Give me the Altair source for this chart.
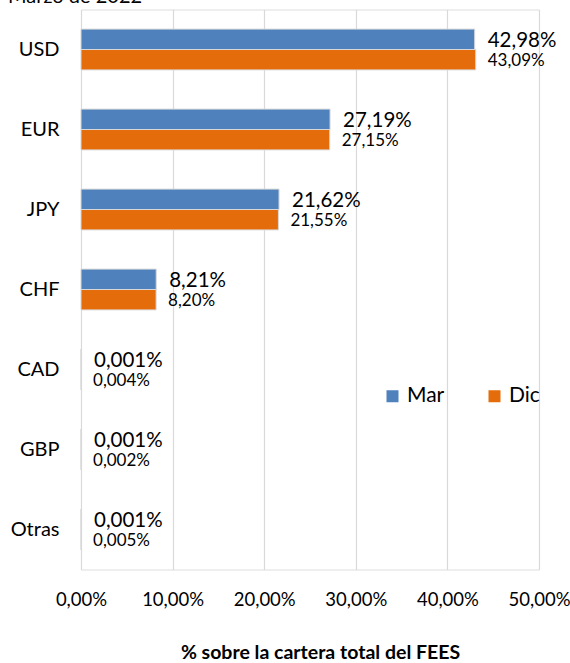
import altair as alt
import pandas as pd

title_text = "Marzo de 2022"
currencies = ["USD", "EUR", "JPY", "CHF", "CAD", "GBP", "Otras"]
series = ["Mar", "Dic"]
mar_values = [42.98, 27.19, 21.62, 8.21, 0.001, 0.001, 0.001]
dic_values = [43.09, 27.15, 21.55, 8.20, 0.004, 0.002, 0.005]
mar_labels = ["42,98%", "27,19%", "21,62%", "8,21%", "0,001%", "0,001%", "0,001%"]
dic_labels = ["43,09%", "27,15%", "21,55%", "8,20%", "0,004%", "0,002%", "0,005%"]
x_ticks = [0, 10, 20, 30, 40, 50]
x_title = "% sobre la cartera total del FEES"
colors = ["#4F81BD", "#E46C0A"]

rows = []
for i, c in enumerate(currencies):
    rows.append({"moneda": c, "serie": "Mar", "valor": mar_values[i], "etiqueta": mar_labels[i]})
    rows.append({"moneda": c, "serie": "Dic", "valor": dic_values[i], "etiqueta": dic_labels[i]})
df = pd.DataFrame(rows)

FONT = "Lato"

y_enc = alt.Y("moneda:N", sort=currencies,
              scale=alt.Scale(paddingInner=0.49, paddingOuter=0.245),
              axis=alt.Axis(title=None, domain=False, ticks=False, labelFontSize=20,
                            labelColor="#000000", labelPadding=22, labelFont=FONT))
yoff = alt.YOffset("serie:N", sort=series, scale=alt.Scale(paddingInner=0, paddingOuter=0))
x_enc = alt.X("valor:Q", scale=alt.Scale(domain=[0, 50], nice=False),
              axis=alt.Axis(values=x_ticks, labelExpr="replace(format(datum.value, '.2f'), '.', ',') + '%'",
                            title=x_title, titleFontWeight="bold", titleFontSize=19.5, titleFont=FONT,
                            titleX=239, titleY=88.5, titleBaseline="alphabetic", titleAlign="center",
                            titleColor="#000000",
                            domain=False, ticks=False,
                            grid=True, gridColor="#d9d9d9", gridWidth=1.2,
                            labelFlush=False, labelOverlap=False,
                            labelFontSize=18.5, labelFont=FONT, labelColor="#000000", labelPadding=21))

bars = alt.Chart(df).mark_bar(stroke="#d8d8d8", strokeWidth=1).encode(
    y=y_enc, yOffset=yoff, x=x_enc,
    color=alt.Color("serie:N", sort=series, scale=alt.Scale(domain=series, range=colors),
                    legend=alt.Legend(title=None, orient="none", legendX=301, legendY=376,
                                      direction="horizontal", symbolType="square", symbolSize=144,
                                      symbolStrokeWidth=0, labelFontSize=21, labelFont=FONT,
                                      labelColor="#000000", columnPadding=39, labelOffset=4)),
)

lab_mar = alt.Chart(df).transform_filter(alt.datum.serie == "Mar").mark_text(
    align="left", baseline="middle", dx=13, dy=1.5, fontSize=20.5, font=FONT, color="#000000"
).encode(y=alt.Y("moneda:N", sort=currencies), yOffset=alt.YOffset("serie:N", sort=series), x="valor:Q", text="etiqueta:N")

lab_dic = alt.Chart(df).transform_filter(alt.datum.serie == "Dic").mark_text(
    align="left", baseline="middle", dx=12, dy=1, fontSize=17, font=FONT, color="#000000"
).encode(y=alt.Y("moneda:N", sort=currencies), yOffset=alt.YOffset("serie:N", sort=series), x="valor:Q", text="etiqueta:N")

title_layer = alt.Chart(pd.DataFrame({"t": [title_text]})).mark_text(
    align="left", baseline="alphabetic", fontSize=20, font=FONT, color="#000000"
).encode(text="t:N", x=alt.value(-73), y=alt.value(-6.5))

chart = alt.layer(bars, lab_mar, lab_dic, title_layer).properties(
    width=458, height=560,
    padding={"left": 81, "top": 9.5, "right": 31, "bottom": 93.5},
    autosize=alt.AutoSizeParams(type="none"),
).configure_view(stroke=None).configure(background="#ffffff")

chart.save("out.html", embed_options={"renderer": "svg", "actions": False})
